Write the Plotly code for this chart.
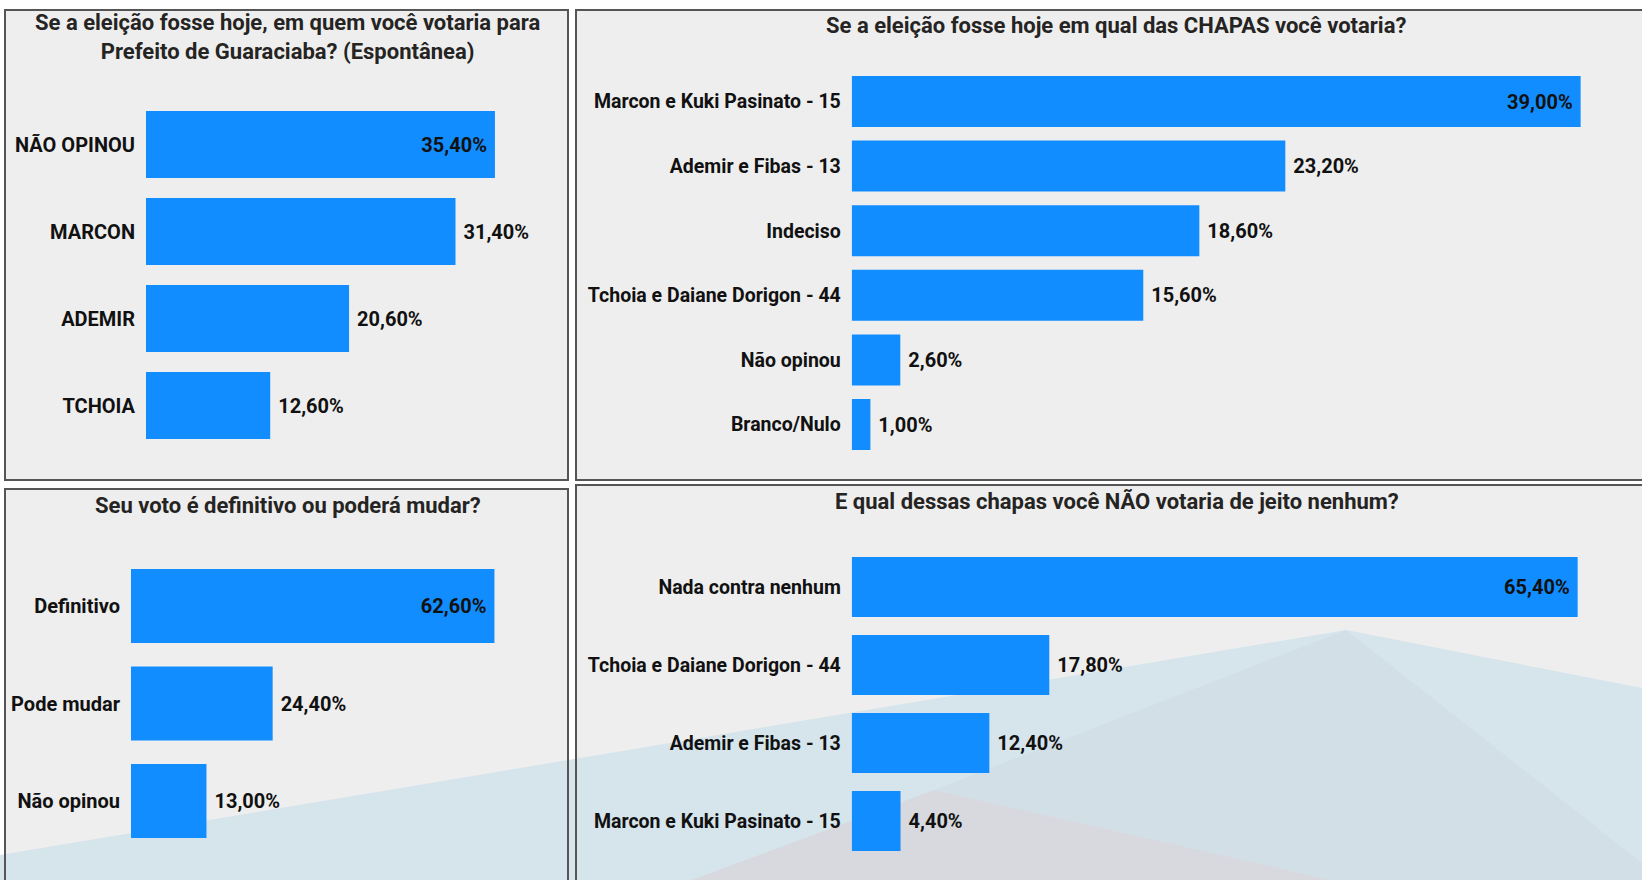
import plotly.graph_objects as go

W, H = 1642, 880

# ---------------- data ----------------
p1_title = "Se a eleição fosse hoje, em quem você votaria para<br>Prefeito de Guaraciaba? (Espontânea)"
p1_cats = ["NÃO OPINOU", "MARCON", "ADEMIR", "TCHOIA"]
p1_vals = [35.4, 31.4, 20.6, 12.6]

p2_title = "Se a eleição fosse hoje em qual das CHAPAS você votaria?"
p2_cats = ["Marcon e Kuki Pasinato - 15", "Ademir e Fibas - 13", "Indeciso",
           "Tchoia e Daiane Dorigon - 44", "Não opinou", "Branco/Nulo"]
p2_vals = [39.0, 23.2, 18.6, 15.6, 2.6, 1.0]

p3_title = "Seu voto é definitivo ou poderá mudar?"
p3_cats = ["Definitivo", "Pode mudar", "Não opinou"]
p3_vals = [62.6, 24.4, 13.0]

p4_title = "E qual dessas chapas você NÃO votaria de jeito nenhum?"
p4_cats = ["Nada contra nenhum", "Tchoia e Daiane Dorigon - 44",
           "Ademir e Fibas - 13", "Marcon e Kuki Pasinato - 15"]
p4_vals = [65.4, 17.8, 12.4, 4.4]

# ---------------- style ----------------
BAR = "#118DFF"
PANEL = "#EEEEEE"
BORDER = "#555555"
TITLE_C = "#252423"
FONT = "Roboto, Lato, 'Liberation Sans', sans-serif"


def fx(x):
    return x / W


def fy(y):
    return 1 - y / H


def fmt(v):
    return f"{v:.2f}".replace(".", ",") + "%"


def labels(vals):
    out = []
    for i, v in enumerate(vals):
        if i == 0:
            out.append(fmt(v) + "\u00a0")
        else:
            out.append("\u00a0" + fmt(v))
    return out


panels = [
    # cats, vals, axis suffix, x-px domain, x-range, y-px domain(top,bottom), bar width, label size, value size
    (p1_cats, p1_vals, "", (146, 560), 42, (101, 449), 0.77, 20, 20),
    (p2_cats, p2_vals, "2", (851.7, 1636.7), 42, (69.2, 456.8), 0.79, 19.5, 20),
    (p3_cats, p3_vals, "3", (131, 549), 72, (557.25, 849.75), 0.76, 20, 20),
    (p4_cats, p4_vals, "4", (851.7, 1628.7), 70, (548, 860), 0.77, 19.5, 20),
]

fig = go.Figure()
layout_axes = {}
for cats, vals, s, (xa, xb), xmax, (yt, yb), bw, fs, vs in panels:
    n = len(cats)
    fig.add_trace(go.Bar(
        x=vals, y=cats, orientation="h",
        xaxis="x" + s, yaxis="y" + s,
        width=bw,
        marker=dict(color=BAR, line=dict(width=0)),
        text=labels(vals),
        textposition=["inside"] + ["outside"] * (n - 1),
        insidetextanchor="end",
        textangle=0,
        constraintext="none",
        cliponaxis=False,
        textfont=dict(family=FONT, size=vs, color="#111111", weight=700),
        hoverinfo="skip",
        showlegend=False,
    ))
    layout_axes["xaxis" + s] = dict(
        domain=[fx(xa), fx(xb)], range=[0, xmax], visible=False,
        anchor="y" + s, fixedrange=True,
    )
    layout_axes["yaxis" + s] = dict(
        domain=[fy(yb), fy(yt)], type="category", range=[n - 0.5, -0.5],
        anchor="x" + s, showgrid=False, zeroline=False, showline=False,
        ticks="outside", ticklen=6, tickcolor="rgba(0,0,0,0)",
        tickfont=dict(family=FONT, size=fs, color="#111111", weight=700),
        fixedrange=True,
    )

# ---------------- panels & decoration ----------------
rects = [(5, 10, 568, 480), (576, 10, 1660, 480), (5, 489, 568, 900), (576, 485, 1660, 900)]
shapes = []
for x0, y0, x1, y1 in rects:
    shapes.append(dict(type="rect", xref="paper", yref="paper",
                       x0=fx(x0), x1=fx(x1), y0=fy(y1), y1=fy(y0),
                       fillcolor=PANEL, line=dict(width=0), layer="below"))


def path(pts):
    return "M " + " L ".join(f"{fx(x):.5f},{fy(y):.5f}" for x, y in pts) + " Z"


shapes.append(dict(type="path", xref="paper", yref="paper", layer="below",
                   path=path([(0, 855), (1346, 630), (1642, 688), (1642, 900), (0, 900)]),
                   fillcolor="#D6E4EC", line=dict(width=0)))
shapes.append(dict(type="path", xref="paper", yref="paper", layer="below",
                   path=path([(1346, 630), (934, 790), (1331, 880), (1642, 880), (1642, 863)]),
                   fillcolor="#D3DFE6", line=dict(width=0)))
shapes.append(dict(type="path", xref="paper", yref="paper", layer="below",
                   path=path([(934, 790), (692, 880), (1331, 880)]),
                   fillcolor="#D7D9DF", line=dict(width=0)))
for x0, y0, x1, y1 in rects:
    shapes.append(dict(type="rect", xref="paper", yref="paper",
                       x0=fx(x0), x1=fx(x1), y0=fy(y1), y1=fy(y0),
                       fillcolor="rgba(0,0,0,0)", line=dict(width=2, color=BORDER),
                       layer="below"))

annotations = [
    dict(text=p1_title, x=fx(287), y=fy(37.5), size=22),
    dict(text=p2_title, x=fx(1116), y=fy(25), size=22),
    dict(text=p3_title, x=fx(288), y=fy(505), size=22),
    dict(text=p4_title, x=fx(1117), y=fy(501), size=22),
]
annotations = [dict(text=a["text"], x=a["x"], y=a["y"], xref="paper", yref="paper",
                    xanchor="center", yanchor="middle", showarrow=False,
                    font=dict(family=FONT, size=a["size"], color=TITLE_C, weight=700))
               for a in annotations]

fig.update_layout(
    width=W, height=H, autosize=False,
    margin=dict(l=0, r=0, t=0, b=0),
    paper_bgcolor="white", plot_bgcolor="rgba(0,0,0,0)",
    shapes=shapes, annotations=annotations,
    **layout_axes,
)

fig.write_html("out.html", config={"displayModeBar": False},
               post_script="document.body.style.margin='0';document.body.style.overflow='hidden';")
